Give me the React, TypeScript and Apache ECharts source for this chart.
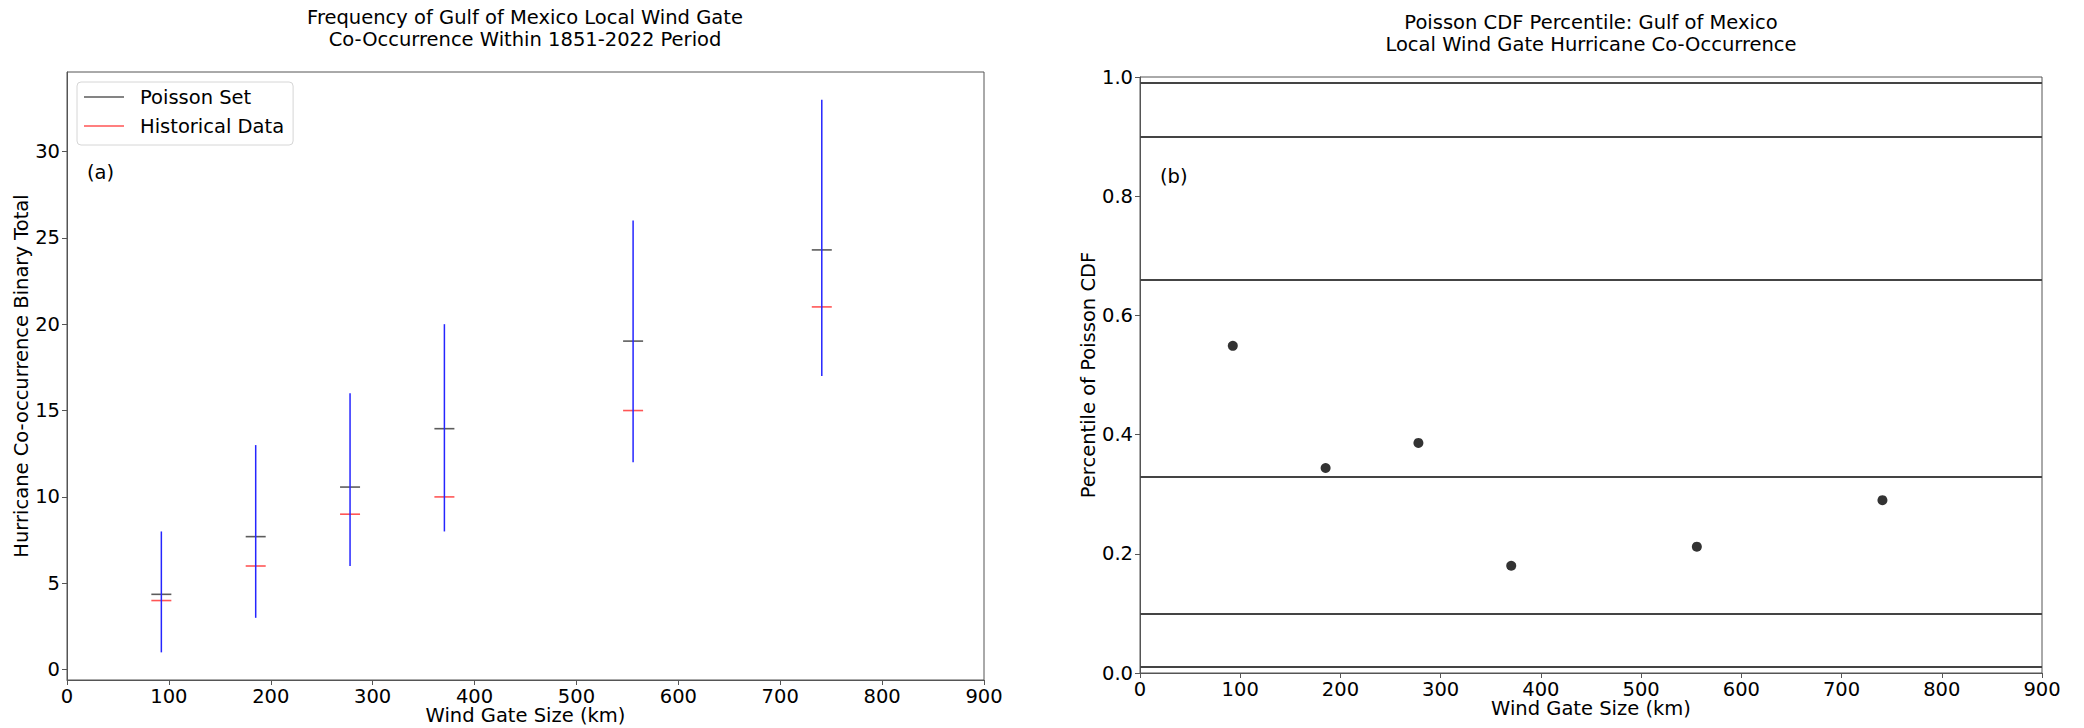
import React, { useEffect, useRef } from "react";
import * as echarts from "echarts";

// ---- Data ----
const windGateKm = [92.6, 185.2, 277.8, 370.4, 555.6, 740.8];
const poissonMean = [4.36, 7.7, 10.57, 13.95, 19.02, 24.3];
const historicalData = [4, 6, 9, 10, 15, 21];
const poissonLow = [1, 3, 6, 8, 12, 17];
const poissonHigh = [8, 13, 16, 20, 26, 33];
const cdfPercentile = [0.549, 0.344, 0.386, 0.18, 0.212, 0.29];
const cdfThresholds = [0.01, 0.1, 0.33, 0.66, 0.9, 0.99];
const leftYTicks = [0, 5, 10, 15, 20, 25, 30];

const FONT = "DejaVu Sans";
const FS = 19.5;
const AXIS_COLOR = "#555";

function axisCommon() {
  return {
    type: "value" as const,
    axisLine: { show: true, onZero: false, lineStyle: { color: AXIS_COLOR, width: 1 } },
    axisTick: { show: true, length: 5, lineStyle: { color: AXIS_COLOR, width: 1 } },
    splitLine: { show: false },
    axisLabel: { fontSize: FS, color: "#000", fontFamily: FONT },
    nameTextStyle: { fontSize: FS, color: "#000", fontFamily: FONT },
    nameLocation: "middle" as const,
  };
}

export default function App() {
  const ref = useRef<HTMLDivElement>(null);
  useEffect(() => {
    if (!ref.current) return;
    const chart = echarts.init(ref.current, undefined, { renderer: "svg" });
    const xName = { fontSize: FS, color: "#000", fontFamily: FONT, lineHeight: 20 };
    const option = {
      animation: false,
      backgroundColor: "#fff",
      textStyle: { fontFamily: FONT },
      grid: [
        { left: 67, top: 72, width: 917, height: 608, show: true, borderColor: AXIS_COLOR, borderWidth: 1, backgroundColor: "transparent", containLabel: false, outerBoundsMode: "none" },
        { left: 1140, top: 77, width: 902, height: 596, show: true, borderColor: AXIS_COLOR, borderWidth: 1, backgroundColor: "transparent", containLabel: false, outerBoundsMode: "none" },
      ],
      xAxis: [
        {
          ...axisCommon(),
          gridIndex: 0,
          min: 0,
          max: 900,
          interval: 100,
          name: "Wind Gate Size (km)",
          nameGap: 25,
          nameMoveOverlap: false,
          nameTextStyle: xName,
          axisLabel: { ...axisCommon().axisLabel, margin: 6 },
        },
        {
          ...axisCommon(),
          gridIndex: 1,
          min: 0,
          max: 900,
          interval: 100,
          name: "Wind Gate Size (km)",
          nameGap: 25,
          nameMoveOverlap: false,
          nameTextStyle: xName,
          axisLabel: { ...axisCommon().axisLabel, margin: 6 },
        },
      ],
      yAxis: [
        {
          ...axisCommon(),
          gridIndex: 0,
          min: -0.6,
          max: 34.6,
          name: "Hurricane Co-occurrence Binary Total",
          nameGap: 33,
          axisTick: { ...axisCommon().axisTick, customValues: leftYTicks },
          axisLabel: { ...axisCommon().axisLabel, margin: 7, customValues: leftYTicks },
        },
        {
          ...axisCommon(),
          gridIndex: 1,
          min: 0,
          max: 1,
          interval: 0.2,
          name: "Percentile of Poisson CDF",
          nameGap: 40,
          axisLabel: { ...axisCommon().axisLabel, margin: 7, formatter: (v: number) => v.toFixed(1) },
        },
      ],
      legend: {
        data: ["Poisson Set", "Historical Data"],
        orient: "vertical",
        left: 77,
        top: 82,
        icon: "rect",
        itemWidth: 40,
        itemHeight: 1.5,
        itemGap: 9,
        selectedMode: false,
        padding: [5, 9, 9, 7],
        borderColor: "#d6d6d6",
        borderWidth: 1,
        borderRadius: 4,
        backgroundColor: "#fff",
        textStyle: { fontSize: FS, color: "#000", fontFamily: FONT, lineHeight: 20, padding: [0, 0, 0, 11] },
      },
      graphic: [
        {
          type: "text",
          x: 525,
          y: 28.5,
          style: {
            text: "Frequency of Gulf of Mexico Local Wind Gate\nCo-Occurrence Within 1851-2022 Period",
            fontSize: FS,
            fontFamily: FONT,
            lineHeight: 22,
            fill: "#000",
            textAlign: "center",
            textVerticalAlign: "middle",
          },
        },
        {
          type: "text",
          x: 1591,
          y: 33,
          style: {
            text: "Poisson CDF Percentile: Gulf of Mexico\nLocal Wind Gate Hurricane Co-Occurrence",
            fontSize: FS,
            fontFamily: FONT,
            lineHeight: 22,
            fill: "#000",
            textAlign: "center",
            textVerticalAlign: "middle",
          },
        },
        {
          type: "text",
          x: 87,
          y: 172,
          style: { text: "(a)", fontSize: FS, fontFamily: FONT, fill: "#000", textAlign: "left", textVerticalAlign: "middle" },
        },
        {
          type: "text",
          x: 1160,
          y: 176,
          style: { text: "(b)", fontSize: FS, fontFamily: FONT, fill: "#000", textAlign: "left", textVerticalAlign: "middle" },
        },
      ],
      series: [
        {
          name: "Poisson Set",
          type: "scatter",
          xAxisIndex: 0,
          yAxisIndex: 0,
          symbol: "rect",
          symbolSize: [20, 1.6],
          itemStyle: { color: "#333" },
          data: windGateKm.map((x, i) => [x, poissonMean[i]]),
          z: 2,
        },
        {
          name: "Historical Data",
          type: "scatter",
          xAxisIndex: 0,
          yAxisIndex: 0,
          symbol: "rect",
          symbolSize: [20, 1.6],
          itemStyle: { color: "#ff2a2a" },
          data: windGateKm.map((x, i) => [x, historicalData[i]]),
          z: 2,
        },
        {
          name: "Poisson Range",
          type: "custom",
          xAxisIndex: 0,
          yAxisIndex: 0,
          encode: { x: 0, y: [1, 2] },
          data: windGateKm.map((x, i) => [x, poissonLow[i], poissonHigh[i]]),
          renderItem: (params: any, api: any) => {
            const x = api.value(0);
            const p1 = api.coord([x, api.value(1)]);
            const p2 = api.coord([x, api.value(2)]);
            return {
              type: "line",
              shape: { x1: p1[0], y1: p1[1], x2: p2[0], y2: p2[1] },
              style: { stroke: "#2525ff", lineWidth: 1.5 },
            };
          },
          z: 3,
        },
        {
          name: "CDF Percentile",
          type: "scatter",
          xAxisIndex: 1,
          yAxisIndex: 1,
          symbol: "circle",
          symbolSize: 10,
          itemStyle: { color: "#000" },
          data: windGateKm.map((x, i) => [x, cdfPercentile[i]]),
          markLine: {
            silent: true,
            symbol: ["none", "none"],
            label: { show: false },
            lineStyle: { color: "#444", width: 1.8, type: "solid" },
            data: cdfThresholds.map((v) => ({ yAxis: v })),
          },
          z: 3,
        },
      ],
    };
    chart.setOption(option as any);
    return () => chart.dispose();
  }, []);
  return (
    <div
      ref={ref}
      style={{ position: "fixed", left: 0, top: 0, width: 2084, height: 728, background: "#fff" }}
    />
  );
}
